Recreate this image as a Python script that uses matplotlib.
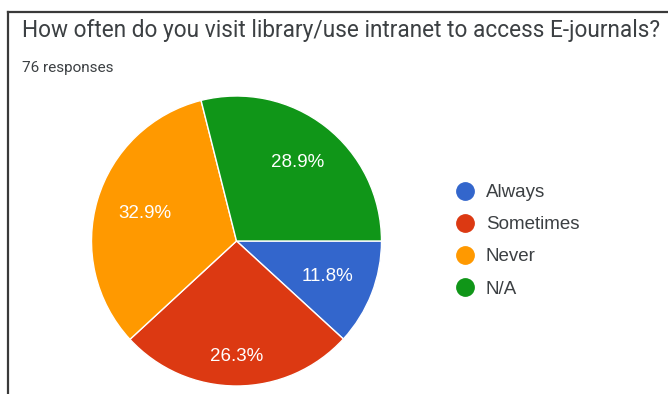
import matplotlib
matplotlib.use("Agg")
import matplotlib.pyplot as plt
import numpy as np
from matplotlib.lines import Line2D

# Survey results
title = "How often do you visit library/use intranet to access E-journals?"
subtitle = "76 responses"
labels = ["Always", "Sometimes", "Never", "N/A"]
shares = [11.8, 26.3, 32.9, 28.9]
colors = ["#3366cc", "#dc3912", "#ff9900", "#109618"]
label_dist = [0.675, 0.80, 0.66, 0.69]  # radial position of the % labels

W, H = 668, 394
fig = plt.figure(figsize=(W / 100, H / 100), dpi=100)
fig.patch.set_facecolor("white")

# frame around the card (top and left edges visible)
fig.add_artist(Line2D([8 / W, 8 / W], [0, 1 - 11.5 / H], transform=fig.transFigure,
                      color="#3a3a3a", lw=1.6))
fig.add_artist(Line2D([8 / W, 1], [1 - 11.5 / H, 1 - 11.5 / H], transform=fig.transFigure,
                      color="#3a3a3a", lw=1.6))

fig.text(22 / W, 1 - 31 / H, title, fontsize=16.3, family="Roboto", color="#3c4043",
         va="center", ha="left")
fig.text(22 / W, 1 - 68 / H, subtitle, fontsize=11, family="Roboto", color="#3c4043",
         va="center", ha="left")

# pie area
cx, cy, r = 236.5, 241, 145
ax = fig.add_axes([(cx - r) / W, 1 - (cy + r) / H, 2 * r / W, 2 * r / H])
wedges, _, autotexts = ax.pie(
    shares, colors=colors, startangle=0, counterclock=False,
    autopct=lambda p: f"{p:.1f}%", pctdistance=0.69,
    wedgeprops=dict(edgecolor="white", linewidth=1.0),
    textprops=dict(color="white", fontsize=13.5, family="Liberation Sans"),
)
for w, t, d in zip(wedges, autotexts, label_dist):
    mid = np.deg2rad((w.theta1 + w.theta2) / 2)
    t.set_position((d * np.cos(mid), d * np.sin(mid)))
ax.set_xlim(-1, 1)
ax.set_ylim(-1, 1)
ax.set_aspect("equal")
ax.axis("off")

handles = [Line2D([], [], marker="o", linestyle="none", markersize=12.5,
                  markerfacecolor=c, markeredgecolor=c) for c in colors]
leg = fig.legend(handles, labels, loc="upper left",
                 bbox_to_anchor=(455.6 / W, 1 - 184 / H), frameon=False,
                 prop=dict(family="Liberation Sans", size=13.5),
                 handletextpad=0.62, labelspacing=0.8, handlelength=1.0,
                 borderaxespad=0, borderpad=0)
for t in leg.get_texts():
    t.set_color("#3c4043")

fig.savefig("out.png", dpi=100)
